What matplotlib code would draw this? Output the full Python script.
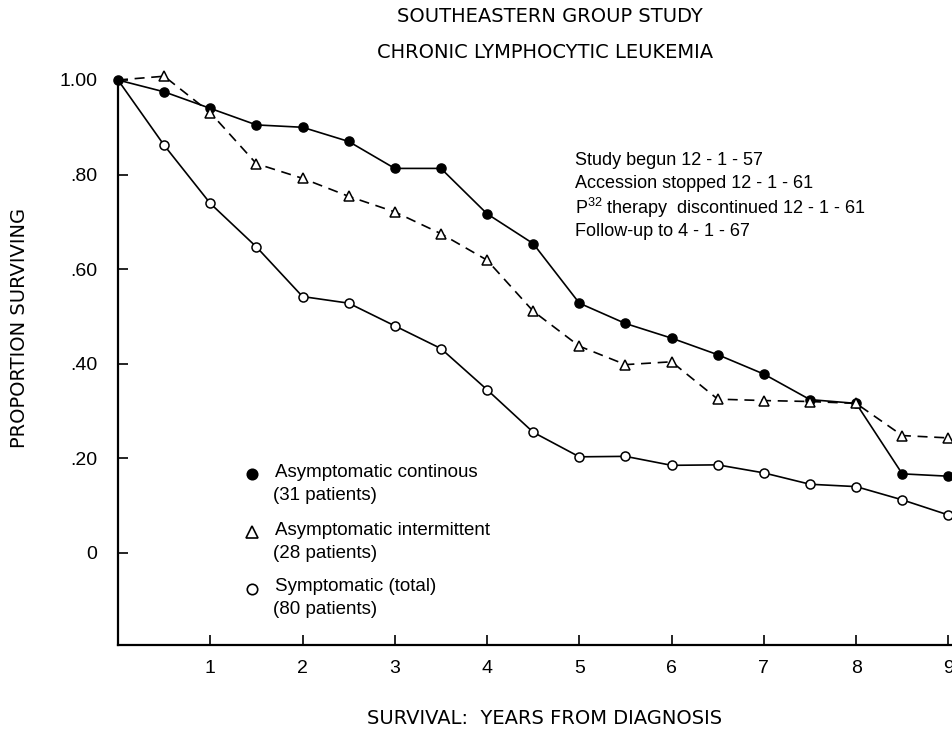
import matplotlib
matplotlib.use("Agg")
import matplotlib.pyplot as plt

plt.rcParams['font.family'] = ['Liberation Sans', 'DejaVu Sans']
plt.rcParams['mathtext.fontset'] = 'custom'
plt.rcParams['mathtext.rm'] = 'Liberation Sans'

# survival in years from diagnosis (half-year steps)
years = [0, 0.5, 1, 1.5, 2, 2.5, 3, 3.5, 4, 4.5, 5, 5.5, 6, 6.5, 7, 7.5, 8, 8.5, 9]

asym_continuous = [1.00, 0.975, 0.94, 0.905, 0.90, 0.87, 0.813, 0.813, 0.717, 0.654,
                   0.528, 0.485, 0.454, 0.419, 0.378, 0.324, 0.316, 0.167, 0.162]
asym_intermittent = [1.00, 1.008, 0.931, 0.823, 0.792, 0.754, 0.721, 0.675, 0.619, 0.511,
                     0.437, 0.398, 0.404, 0.325, 0.322, 0.320, 0.316, 0.248, 0.243]
symptomatic = [1.00, 0.862, 0.739, 0.647, 0.542, 0.528, 0.480, 0.432, 0.345, 0.255,
               0.203, 0.204, 0.185, 0.186, 0.169, 0.145, 0.140, 0.112, 0.080]

y_ticks = [0, 0.2, 0.4, 0.6, 0.8, 1.0]
y_ticklabels = ['0', '.20', '.40', '.60', '.80', '1.00']
x_ticks = [1, 2, 3, 4, 5, 6, 7, 8, 9]

legend_entries = [
    ('Asymptomatic continous', '(31 patients)'),
    ('Asymptomatic intermittent', '(28 patients)'),
    ('Symptomatic (total)', '(80 patients)'),
]
notes = ['Study begun 12 - 1 - 57',
         'Accession stopped 12 - 1 - 61',
         'P$^{32}$ therapy  discontinued 12 - 1 - 61',
         'Follow-up to 4 - 1 - 67']

fig = plt.figure(figsize=(9.53, 7.35), dpi=100)
ax = fig.add_axes([118 / 953, 90 / 735, 1 - 118 / 953, 565 / 735])

styles = [
    dict(marker='o', mfc='black', mec='black', ms=6.5, ls='-'),
    dict(marker='^', mfc='white', mec='black', ms=7, ls=(0, (6, 4))),
    dict(marker='o', mfc='white', mec='black', ms=6.5, ls='-'),
]
series = [asym_continuous, asym_intermittent, symptomatic]
# the shared starting point (0, 1.00) only shows the filled dot
starts = [0, 1, 1]
for vals, st, s0 in zip(series, styles, starts):
    ax.plot(years, vals, color='black', lw=1.2, mew=1.1, clip_on=False, zorder=3,
            markevery=slice(s0, None), **st)

ax.set_xlim(0, 9.05)
ax.set_ylim(-0.195, 1.0)
for s in ['top', 'right']:
    ax.spines[s].set_visible(False)
ax.spines['left'].set_linewidth(1.6)
ax.spines['bottom'].set_linewidth(1.6)

ax.set_yticks(y_ticks)
ax.set_yticklabels(y_ticklabels)
ax.set_xticks(x_ticks)
ax.tick_params(axis='both', direction='in', length=7, width=1.2, labelsize=14)
ax.tick_params(axis='y', pad=15)
ax.tick_params(axis='x', pad=11)

# legend drawn by hand so the marker sits on the first line
leg_y = [0.303, 0.200, 0.100]
for (l1, l2), st, yy in zip(legend_entries, styles, leg_y):
    ax.plot([0.1605], [yy], transform=ax.transAxes, color='black', ls='none',
            marker=st['marker'], mfc=st['mfc'], mec='black', ms=st['ms'] + 1, mew=1.2,
            clip_on=False)
    ax.text(0.188, yy + 0.003, l1, transform=ax.transAxes, fontsize=13.5, va='center')
    ax.text(0.186, yy - 0.038, l2, transform=ax.transAxes, fontsize=13.5, va='center')

for i, line in enumerate(notes):
    ax.text(0.547, 0.858 - i * 0.042, line, transform=ax.transAxes, fontsize=13, va='center')

cap = dict(family='DejaVu Sans', fontsize=14, ha='center', va='center')
fig.text(550 / 953, 1 - 17 / 735, 'SOUTHEASTERN GROUP STUDY', **cap)
fig.text(545 / 953, 1 - 53 / 735, 'CHRONIC LYMPHOCYTIC LEUKEMIA', **cap)
fig.text(545 / 953, 1 - 718 / 735, 'SURVIVAL:  YEARS FROM DIAGNOSIS', **cap)
fig.text(20 / 953, 1 - 328 / 735, 'PROPORTION SURVIVING', rotation=90, **cap)

fig.savefig('out.png', dpi=100)
